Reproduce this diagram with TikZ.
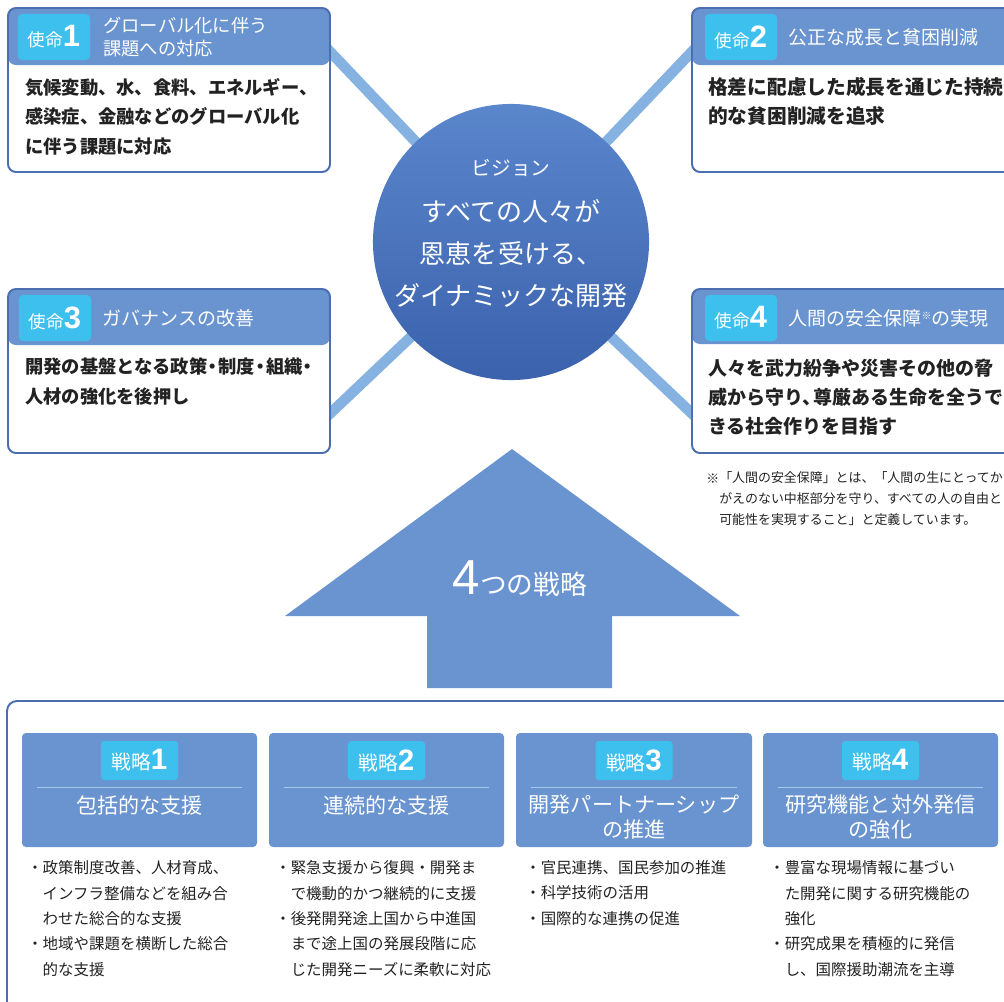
\documentclass[tikz,border=0pt]{standalone}
\usepackage{fontspec}
\setmainfont{Noto Sans CJK JP}
\newfontfamily\numfont{Liberation Sans}
\usetikzlibrary{positioning,fit,calc,backgrounds}
\definecolor{frame}{HTML}{4A6EB0}
\definecolor{band}{HTML}{6A94CF}
\definecolor{tagc}{HTML}{3EC0EF}
\definecolor{linkc}{HTML}{86B2E2}
\definecolor{ink}{HTML}{222222}
\definecolor{visA}{HTML}{5A86CC}
\definecolor{visB}{HTML}{3B62AD}
\definecolor{sepc}{HTML}{A9C6EC}
\tikzset{
mbox/.style = {draw=frame, fill=white, line width=1.4pt, rounded corners=0.2cm, inner sep=0pt, outer sep=0pt,
  path picture={\fill[band] (path picture bounding box.north west) rectangle ([yshift=-#1]path picture bounding box.north east);}},
tagbox/.style = {fill=tagc, rounded corners=0.1cm, text=white, inner sep=0pt, minimum width=1.8cm, minimum height=1.15cm, font=\fontsize{12.5}{14}\selectfont},
head/.style = {text=white, inner sep=0pt, align=left, font=\fontsize{13.5}{16.4}\selectfont},
body/.style = {text=ink, inner sep=0pt, align=left, anchor=base west, font=\bfseries\fontsize{13}{20.8}\selectfont},
link/.style = {draw=linkc, line width=7.5pt},
vision/.style = {circle, top color=visA, bottom color=visB, minimum size=6.9cm, inner sep=0pt},
sbox/.style = {fill=band, rounded corners=0.1cm, inner sep=0pt},
stag/.style = {fill=tagc, rounded corners=0.08cm, text=white, inner sep=0pt, minimum width=1.925cm, minimum height=0.975cm, font=\fontsize{14}{16}\selectfont},
stitle/.style = {text=white, inner sep=0pt, align=center, font=\fontsize{15}{17.8}\selectfont},
sep/.style = {draw=sepc, line width=0.8pt},
bullets/.style = {text=ink, inner sep=0pt, align=left, anchor=base west, font=\fontsize{11}{18}\selectfont},
note/.style = {text=ink, inner sep=0pt, align=left, anchor=base west, font=\fontsize{9.2}{14.6}\selectfont}
}
\newcommand{\tagnum}[2]{#1{\numfont\bfseries\fontsize{22}{22}\selectfont #2}}
\newcommand{\snum}[2]{#1{\numfont\bfseries\fontsize{21}{21}\selectfont #2}}
\newcommand{\ind}{\hphantom{・}}
\begin{document}
\begin{tikzpicture}[x=0.025cm, y=-0.025cm]
    \useasboundingbox (0,0) rectangle (1004,1001);
    \clip (0,0) rectangle (1004,1001);
    \node [vision] (vis) at (511,242) {};
    \node [text=white, inner sep=0pt, font=\fontsize{14}{14}\selectfont] (vlabel) at (511,168) {ビジョン};
    \node [text=white, inner sep=0pt, align=center, font=\fontsize{18.5}{29.9}\selectfont] (vtext) at (511,254) {すべての人々が\\恩恵を受ける、\\ダイナミックな開発};
    \coordinate (k1) at (300,20);
    \coordinate (k2) at (722,20);
    \coordinate (k3) at (300,442);
    \coordinate (k4) at (722,442);
    \begin{pgfonlayer}{background}
    \draw [link] (vis.center) -- (k1);
    \draw [link] (vis.center) -- (k2);
    \draw [link] (vis.center) -- (k3);
    \draw [link] (vis.center) -- (k4);
    \end{pgfonlayer}
    \node [mbox=1.425cm, fit={(8,8) (330,172)}] (m1) {};
    \node [tagbox] (t1) at (54,37) {\tagnum{使命}{1}};
    \node [head, font=\fontsize{13}{16.4}\selectfont, right=0.32cm of t1] (h1) {グローバル化に伴う\\課題への対応};
    \node [body] (b1) at (25,153) {気候変動、水、食料、エネルギー、\\感染症、金融などのグローバル化\\に伴う課題に対応};
    \node [mbox=1.425cm, fit={(692,8) (1040,172)}] (m2) {};
    \node [tagbox] (t2) at (741,37) {\tagnum{使命}{2}};
    \node [head, right=0.28cm of t2] (h2) {公正な成長と貧困削減};
    \node [body, font=\bfseries\fontsize{14}{20.6}\selectfont] (b2) at (708,123) {格差に配慮した成長を通じた持続\\的な貧困削減を追求};
    \node [mbox=1.4cm, fit={(8,289) (330,453)}] (m3) {};
    \node [tagbox] (t3) at (55,318) {\tagnum{使命}{3}};
    \node [head, right=0.28cm of t3] (h3) {ガバナンスの改善};
    \node [body] (b3) at (25,403) {開発の基盤となる政策\kern-.2em・\kern-.2em制度\kern-.2em・\kern-.2em組織\kern-.2em・\\人材の強化を後押し};
    \node [mbox=1.375cm, fit={(692,289) (1040,453)}] (m4) {};
    \node [tagbox] (t4) at (741,318) {\tagnum{使命}{4}};
    \node [head, right=0.28cm of t4] (h4) {人間の安全保障\raisebox{0.55ex}{\fontsize{7}{7}\selectfont ※}の実現};
    \node [body, font=\bfseries\fontsize{13.5}{20.6}\selectfont] (b4) at (708,433) {人々を武力紛争や災害その他の脅\\威から守り、\kern-.4em尊厳ある生命を全うで\\きる社会作りを目指す};
    \node [note] (mark) at (706,483) {※};
    \node [note] (fn) at (719,524) {「人間の安全保障」とは、「人間の生にとってかけ\\がえのない中枢部分を守り、すべての人の自由と\\可能性を実現すること」と定義しています。};
    \fill [band] (512,449) -- (740,616) -- (612,616) -- (612,688) -- (427,688) -- (427,616) -- (285,616) -- cycle;
    \node [text=white, inner sep=0pt, anchor=base] (four) at (520,594) {{\numfont\fontsize{35}{35}\selectfont 4}{\fontsize{19}{19}\selectfont つの戦略}};
    \node [draw=frame, line width=1.4pt, rounded corners=0.25cm, inner sep=0pt, fit={(7,701) (1040,1040)}] (strat) {};
    \node [sbox, fit={(22,733) (257,847)}] (s1) {};
    \node [stag, below=0.2cm of s1.north] (st1) {\snum{戦略}{1}};
    \draw [sep] ($(s1.north west)+(15,55)$) -- ($(s1.north east)+(-15,55)$);
    \node [stitle] (ti1) at ($(s1.north)+(0,73)$) {包括的な支援};
    \node [bullets] (l1) at (27,975) {・政策制度改善、人材育成、\\\ind インフラ整備などを組み合\\\ind わせた総合的な支援\\・地域や課題を横断した総合\\\ind 的な支援};
    \node [sbox, fit={(269,733) (504,847)}] (s2) {};
    \node [stag, below=0.2cm of s2.north] (st2) {\snum{戦略}{2}};
    \draw [sep] ($(s2.north west)+(15,55)$) -- ($(s2.north east)+(-15,55)$);
    \node [stitle] (ti2) at ($(s2.north)+(0,73)$) {連続的な支援};
    \node [bullets] (l2) at (275,975) {・緊急支援から復興・開発ま\\\ind で機動的かつ継続的に支援\\・後発開発途上国から中進国\\\ind まで途上国の発展段階に応\\\ind じた開発ニーズに柔軟に対応};
    \node [sbox, fit={(516,733) (752,847)}] (s3) {};
    \node [stag, below=0.2cm of s3.north] (st3) {\snum{戦略}{3}};
    \draw [sep] ($(s3.north west)+(15,55)$) -- ($(s3.north east)+(-15,55)$);
    \node [stitle] (ti3) at ($(s3.north)+(0,84.5)$) {開発パートナーシップ\\の推進};
    \node [bullets] (l3) at (525,924) {・官民連携、国民参加の推進\\・科学技術の活用\\・国際的な連携の促進};
    \node [sbox, fit={(763,733) (998,847)}] (s4) {};
    \node [stag, below=0.2cm of s4.north] (st4) {\snum{戦略}{4}};
    \draw [sep] ($(s4.north west)+(15,55)$) -- ($(s4.north east)+(-15,55)$);
    \node [stitle] (ti4) at ($(s4.north)+(0,84.5)$) {研究機能と対外発信\\の強化};
    \node [bullets] (l4) at (769,975) {・豊富な現場情報に基づい\\\ind た開発に関する研究機能の\\\ind 強化\\・研究成果を積極的に発信\\\ind し、国際援助潮流を主導};
\end{tikzpicture}
\end{document}
